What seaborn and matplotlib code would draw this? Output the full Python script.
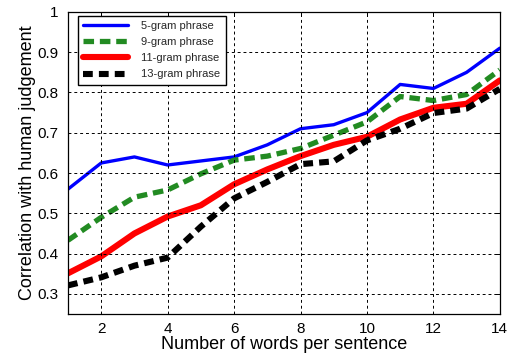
import matplotlib
matplotlib.use("Agg")
import matplotlib.pyplot as plt
import seaborn as sns
import pandas as pd

# Sentence length (words) and correlation scores for each n-gram phrase size
words = [1, 2, 3, 4, 5, 6, 7, 8, 9, 10, 11, 12, 13, 14]
gram5 = [0.56, 0.625, 0.64, 0.62, 0.63, 0.64, 0.67, 0.71, 0.72, 0.75, 0.82, 0.81, 0.85, 0.91]
gram9 = [0.433, 0.49, 0.54, 0.558, 0.598, 0.632, 0.642, 0.661, 0.694, 0.727, 0.79, 0.78, 0.795, 0.856]
gram11 = [0.351, 0.393, 0.45, 0.492, 0.52, 0.572, 0.609, 0.642, 0.67, 0.69, 0.733, 0.762, 0.772, 0.83]
gram13 = [0.321, 0.341, 0.37, 0.39, 0.467, 0.537, 0.578, 0.622, 0.629, 0.681, 0.71, 0.749, 0.76, 0.809]

series_names = ["5-gram phrase", "9-gram phrase", "11-gram phrase", "13-gram phrase"]
series_values = [gram5, gram9, gram11, gram13]

xticks = [2, 4, 6, 8, 10, 12, 14]
yticks = [0.3, 0.4, 0.5, 0.6, 0.7, 0.8, 0.9, 1.0]
ytick_labels = ["0.3", "0.4", "0.5", "0.6", "0.7", "0.8", "0.9", "1"]

df = pd.DataFrame({
    "words": words * len(series_names),
    "corr": [v for vals in series_values for v in vals],
    "series": [name for name in series_names for _ in words],
})

sns.set_theme(style="white")
plt.rcParams["font.family"] = ["Liberation Sans", "DejaVu Sans"]

styles = {
    "5-gram phrase": dict(color="#0000ff", lw=2.4, dashes=None),
    "9-gram phrase": dict(color="#228b22", lw=3.8, dashes=(2.0, 1.1)),
    "11-gram phrase": dict(color="#ff0000", lw=4.4, dashes=None),
    "13-gram phrase": dict(color="#000000", lw=4.4, dashes=(1.6, 1.0)),
}

fig = plt.figure(figsize=(5.19, 3.62), dpi=100)
ax = fig.add_axes([0.131, 0.1326, 0.832, 0.8344])

for name in series_names:
    st = styles[name]
    sub = df[df["series"] == name]
    sns.lineplot(data=sub, x="words", y="corr", ax=ax, color=st["color"],
                 linewidth=st["lw"], label=name, legend=False)
    line = ax.lines[-1]
    if st["dashes"] is not None:
        line.set_dashes(st["dashes"])
        line.set_dash_capstyle("butt")

ax.set_xlim(1, 14)
ax.set_ylim(0.25, 1.0)
ax.set_xticks(xticks)
ax.set_yticks(yticks)
ax.set_yticklabels(ytick_labels)

ax.grid(True, color="black", linestyle=(0, (3, 3)), linewidth=0.7)
ax.set_axisbelow(False)
for sp in ax.spines.values():
    sp.set_visible(True)
    sp.set_color("black")
    sp.set_linewidth(0.9)

ax.tick_params(direction="in", length=3, width=0.7, colors="black",
               labelsize=11, top=True, right=True, pad=6)
ax.tick_params(axis="y", pad=7)

ax.set_xlabel("Number of words per sentence", fontsize=13, labelpad=0, color="black")
ax.set_ylabel("Correlation with human judgement", fontsize=13, labelpad=1, color="black")

leg = ax.legend(loc="upper left", bbox_to_anchor=(0.023, 0.988), borderaxespad=0,
                fontsize=8, frameon=True, fancybox=False, handlelength=4.0,
                handletextpad=1.2, labelspacing=0.55, borderpad=0.5)
leg.get_frame().set_edgecolor("black")
leg.get_frame().set_linewidth(1.0)
leg.get_frame().set_facecolor("white")
leg.get_frame().set_alpha(1.0)

fig.savefig("out.png", dpi=100)
